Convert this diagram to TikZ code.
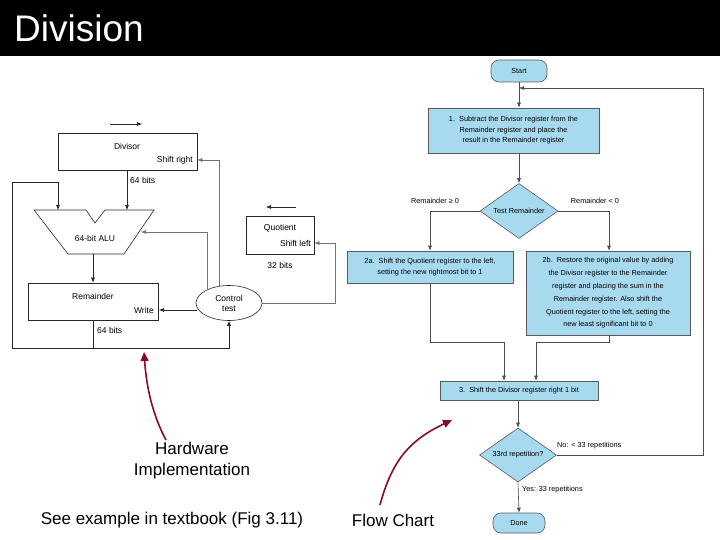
\documentclass[tikz,border=0pt]{standalone}
\usepackage{fontspec}
\setmainfont{Liberation Sans}
\usetikzlibrary{shapes.geometric,arrows.meta}
\definecolor{fcblue}{HTML}{A8DAEF}
\definecolor{arrred}{HTML}{8B0A2A}
\begin{document}
\begin{tikzpicture}[x=1pt,y=-1pt,
  hw/.style={draw=black!85,line width=0.6pt},
  hwa/.style={hw,-{Latex[length=5pt,width=4pt]}},
  ctl/.style={draw=black!55,line width=0.6pt,-{Latex[length=5pt,width=4pt]}},
  sm/.style={font=\fontsize{8.5}{9}\selectfont,inner sep=0pt},
  fb/.style={draw=black!65,fill=fcblue,line width=0.6pt,font=\fontsize{7.3}{10.5}\selectfont,align=center,inner sep=1pt},
  fl/.style={draw=black!70,line width=0.6pt},
  fa/.style={fl,-{Latex[length=5pt,width=4pt]}},
  ft/.style={font=\fontsize{7.3}{8}\selectfont,inner sep=0pt},
  red/.style={draw=arrred,line width=1.6pt,-{Triangle[length=9pt,width=8pt]}},
  big/.style={font=\fontsize{17}{21}\selectfont,align=center,inner sep=0pt}]
\useasboundingbox (0,0) rectangle (720,540);
\fill[white] (0,0) rectangle (720,540);
\fill[black] (0,0) rectangle (720,56);
\node[anchor=west,text=white,font=\fontsize{37}{40}\selectfont,inner sep=0pt] (title) at (14,28) {Division};

% ---------- hardware ----------
\node[hw,minimum width=139pt,minimum height=37pt,inner sep=0pt] (div) at (127.5,151.5) {};
\node[sm] (divt) at (127,146) {Divisor};
\node[sm,anchor=east] (divsr) at (193,160) {Shift right};
\coordinate (da1) at (110,124); \coordinate (da2) at (142,124);
\draw[hwa] (da1) -- (da2);
\node[sm,anchor=west] (b64a) at (130,180) {64 bits};
\draw[hw,line width=0.6pt] (34,210) -- (86,210) -- (95,223) -- (105,210) -- (154,210) -- (124,254) -- (68,254) -- cycle;
\node[sm] (alu) at (95,238) {64-bit ALU};
\coordinate (alutopL) at (58,210); \coordinate (alutopR) at (127,210);
\draw[hwa] (div.south -| alutopR) -- (alutopR);
\node[hw,minimum width=130pt,minimum height=37pt,inner sep=0pt] (rem) at (93,301.5) {};
\node[sm] (remt) at (93,296) {Remainder};
\node[sm,anchor=east] (remw) at (154,310) {Write};
\node[sm,anchor=west] (b64b) at (97,330) {64 bits};
\coordinate (alubot) at (93,254);
\draw[hwa] (alubot) -- (rem.north);
\node[hw,ellipse,minimum width=66pt,minimum height=35pt,inner sep=0pt,align=center,font=\fontsize{8.5}{10}\selectfont] (ctl) at (229,303) {Control\\test};
\coordinate (c1) at (93,348); \coordinate (c2) at (12,348); \coordinate (c3) at (12,182); \coordinate (c4) at (58,182); \coordinate (c5) at (229,348);
\draw[hwa] (rem.south) -- (c1) -- (c2) -- (c3) -- (c4) -- (alutopL);
\draw[hwa] (c1) -- (c5) -- (ctl.south);
\coordinate (cw) at (197,310); \coordinate (cw2) at (159,310);
\draw[hwa] (cw) -- (cw2);
\coordinate (k1) at (207,289); \coordinate (k2) at (207,232); \coordinate (k3) at (141,232);
\draw[ctl] (k1) -- (k2) -- (k3);
\coordinate (m1) at (219,287); \coordinate (m2) at (219,160);
\draw[ctl] (m1) -- (m2) -- (div.east |- m2);
\node[hw,minimum width=68pt,minimum height=38pt,inner sep=0pt] (quo) at (280,235) {};
\node[sm] (quot) at (280,228) {Quotient};
\node[sm,anchor=east] (quos) at (311,243) {Shift left};
\node[sm] (b32) at (280,265) {32 bits};
\coordinate (qa1) at (296,207); \coordinate (qa2) at (266,207);
\draw[hwa] (qa1) -- (qa2);
\coordinate (q1) at (335,303); \coordinate (q2) at (335,243);
\draw[ctl] (ctl.east) -- (q1) -- (q2) -- (quo.east |- q2);

% ---------- flowchart ----------
\node[fb,rounded corners=8pt,minimum width=56pt,minimum height=22pt] (start) at (519,71) {Start};
\node[fb,minimum width=171pt,minimum height=45pt] (s1) at (513.5,130.5) {1.\ \ Subtract the Divisor register from the\\Remainder register and place the\\result in the Remainder register};
\node[fb,diamond,aspect=1.45,minimum width=78pt,minimum height=55pt,inner sep=0pt] (t1) at (519,211) {Test Remainder};
\node[fb,minimum width=166pt,minimum height=32pt] (s2a) at (430,267) {2a.\ \ Shift the Quotient register to the left,\\setting the new rightmost bit to 1};
\node[fb,minimum width=164pt,minimum height=84pt,font=\fontsize{7.3}{12.8}\selectfont] (s2b) at (608,293) {2b.\ \ Restore the original value by adding\\the Divisor register to the Remainder\\register and placing the sum in the\\Remainder register. Also shift the\\Quotient register to the left, setting the\\new least significant bit to 0};
\node[fb,minimum width=158pt,minimum height=19pt] (s3) at (519,390.5) {3.\ \ Shift the Divisor register right 1 bit};
\node[fb,diamond,aspect=1.45,minimum width=77pt,minimum height=54pt,inner sep=0pt] (t2) at (518,455) {33rd repetition?};
\node[fb,rounded corners=8pt,minimum width=52pt,minimum height=20pt] (done) at (519,523) {Done};
\draw[fa] (start) -- (s1.north -| start);
\draw[fa] (s1.south -| t1) -- (t1);
\coordinate (l1) at (430,211); \coordinate (r1) at (609,211);
\draw[fa] (t1.west) -- (l1) -- (s2a.north -| l1);
\draw[fa] (t1.east) -- (r1) -- (s2b.north -| r1);
\node[ft] (lab1) at (435,201) {Remainder ≥ 0};
\node[ft] (lab2) at (595,201) {Remainder < 0};
\coordinate (j1) at (430,342); \coordinate (j2) at (504,342); \coordinate (j3) at (609,342); \coordinate (j4) at (536,342);
\draw[fa] (s2a.south -| j1) -- (j1) -- (j2) -- (s3.north -| j2);
\draw[fa] (s2b.south -| j3) -- (j3) -- (j4) -- (s3.north -| j4);
\draw[fa] (s3.south -| t2.north) -- (t2.north);
\coordinate (n1) at (703,455); \coordinate (n2) at (703,88); \coordinate (n3) at (519,88);
\draw[fa] (t2.east) -- (n1) -- (n2) -- (n3);
\node[ft,anchor=west] (no) at (557,446) {No: < 33 repetitions};
\draw[fa] (t2.south) -- (done.north);
\node[ft,anchor=west] (yes) at (522,490) {Yes: 33 repetitions};

% ---------- captions ----------
\node[big] (hwl) at (192,461) {Hardware\\Implementation};
\node[big] (see) at (172,520) {See example in textbook (Fig 3.11)};
\node[big] (fc) at (393,520) {Flow Chart};
\coordinate (ra1) at (166,440); \coordinate (ra2) at (144,352);
\draw[red] (ra1) .. controls (150,410) and (146,380) .. (ra2);
\coordinate (rb1) at (380,505); \coordinate (rb2) at (452,420);
\draw[red] (rb1) .. controls (392,460) and (410,440) .. (rb2);
\end{tikzpicture}
\end{document}
